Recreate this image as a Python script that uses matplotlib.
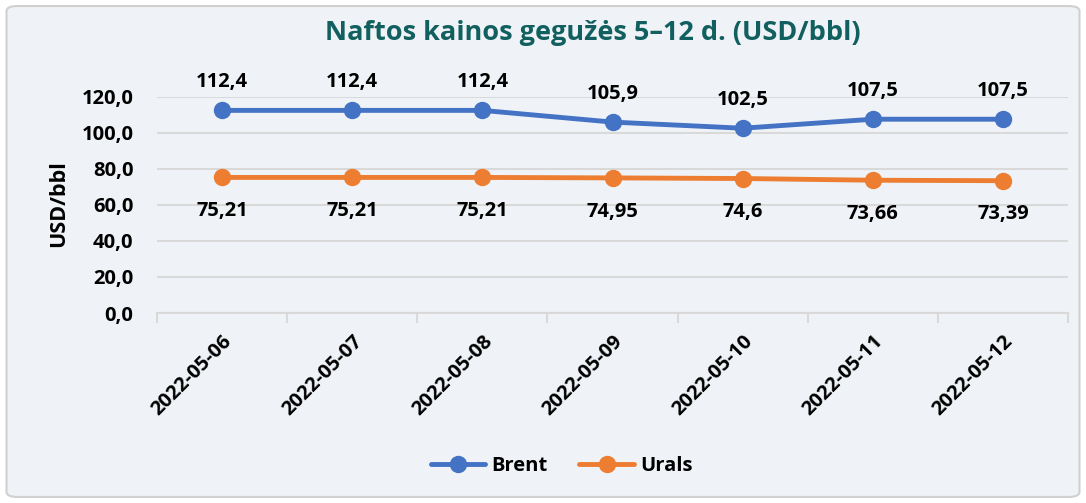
import matplotlib.pyplot as plt
from matplotlib.patches import FancyBboxPatch

dates = ['2022-05-06', '2022-05-07', '2022-05-08', '2022-05-09',
         '2022-05-10', '2022-05-11', '2022-05-12']
brent = [112.4, 112.4, 112.4, 105.9, 102.5, 107.5, 107.5]
urals = [75.21, 75.21, 75.21, 74.95, 74.6, 73.66, 73.39]
brent_labels = ['112,4', '112,4', '112,4', '105,9', '102,5', '107,5', '107,5']
urals_labels = ['75,21', '75,21', '75,21', '74,95', '74,6', '73,66', '73,39']
yticks = [0, 20, 40, 60, 80, 100, 120]
ytick_labels = ['0,0', '20,0', '40,0', '60,0', '80,0', '100,0', '120,0']

plt.rcParams['font.family'] = ['Open Sans', 'DejaVu Sans']
plt.rcParams['font.weight'] = 'bold'

bg = '#eff3f7'
fig = plt.figure(figsize=(10.86, 5.03), dpi=100)
fig.patch.set_facecolor('white')
fig.patches.append(FancyBboxPatch((0.006, 0.012), 0.988, 0.976, boxstyle='round,pad=0,rounding_size=0.01',
                                  transform=fig.transFigure, facecolor=bg, edgecolor='#d0d0d0',
                                  linewidth=1.5, zorder=-10))

ax = fig.add_axes([0.1446, 0.3777, 0.8388, 0.4301])
ax.set_facecolor('none')

x = list(range(len(dates)))
ax.plot(x, brent, color='#4472C4', lw=3.5, marker='o', ms=11.5, label='Brent', solid_capstyle='round')
ax.plot(x, urals, color='#ED7D31', lw=3.5, marker='o', ms=11.5, label='Urals', solid_capstyle='round')

fs = 14.5
for i in x:
    ax.annotate(brent_labels[i], (i, brent[i]), xytext=(0, 13), textcoords='offset points',
                ha='center', va='bottom', fontsize=fs, fontweight='bold')
    ax.annotate(urals_labels[i], (i, urals[i]), xytext=(0, -17), textcoords='offset points',
                ha='center', va='top', fontsize=fs, fontweight='bold')

ax.set_xlim(-0.5, len(dates) - 0.5)
ax.set_ylim(0, 120)
ax.set_yticks(yticks)
ax.set_yticklabels(ytick_labels, fontsize=fs, fontweight='bold')
ax.set_xticks(x)
ax.set_xticklabels(dates, rotation=45, ha='right', rotation_mode='anchor', fontsize=fs, fontweight='bold')
ax.tick_params(axis='x', length=0, pad=13)
ax.tick_params(axis='y', length=0, pad=17)
ax.set_xticks([i - 0.5 for i in range(len(dates) + 1)], minor=True)
ax.tick_params(axis='x', which='minor', length=7, color='#d9d9d9', width=1.5)
ax.grid(axis='y', color='#d9d9d9', lw=1.5)
ax.set_axisbelow(True)
for s in ['top', 'right', 'left']:
    ax.spines[s].set_visible(False)
ax.spines['bottom'].set_color('#d9d9d9')
ax.spines['bottom'].set_linewidth(1.5)

ax.set_ylabel('USD/bbl', fontsize=15.5, fontweight='bold')
ax.yaxis.set_label_coords(-0.097, 0.505)
fig.text(0.546, 0.935, 'Naftos kainos gegužės 5–12 d. (USD/bbl)', ha='center', va='center',
         fontsize=19.5, fontweight='bold', color='#11605f')

fig.legend(loc='center', bbox_to_anchor=(0.517, 0.073), ncol=2, frameon=False, fontsize=fs,
           handlelength=2.7, columnspacing=1.6, handletextpad=0.3)

fig.savefig('out.png', dpi=100, facecolor=fig.get_facecolor())
